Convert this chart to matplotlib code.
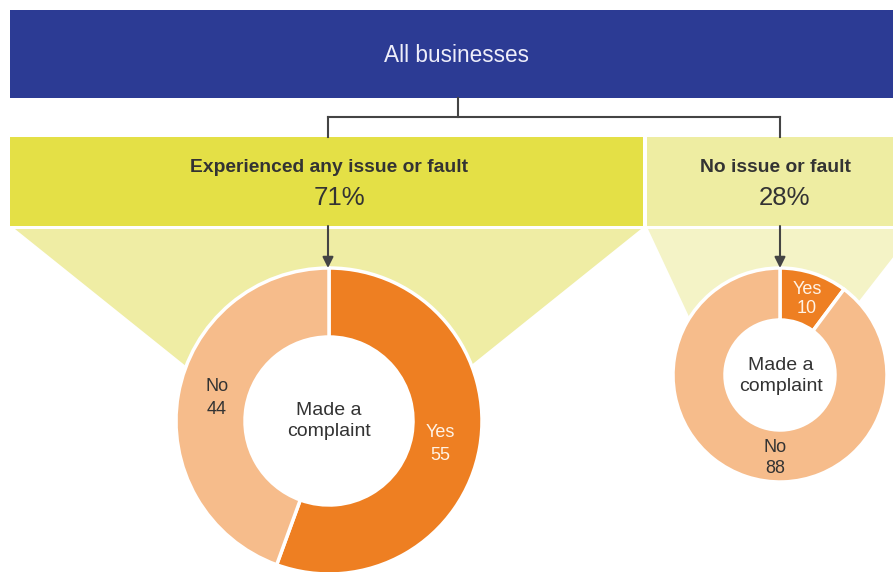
import matplotlib
matplotlib.use("Agg")
import matplotlib.pyplot as plt
from matplotlib.patches import Rectangle, Polygon, Circle

plt.rcParams['font.family'] = ['Liberation Sans', 'DejaVu Sans']

# ---- data ----
top_label = "All businesses"
group_labels = ["Experienced any issue or fault", "No issue or fault"]
group_shares = [71, 28]
center_label = "Made a\ncomplaint"
slice_labels = ["Yes", "No"]
issue_values = [55, 44]       # experienced issue: Yes / No
noissue_values = [10, 88]     # no issue: Yes / No

# ---- styling ----
W, H = 893, 572
BLUE = "#2C3B94"
YEL_STRONG = "#E4E046"
YEL_LIGHT = "#EEEDA2"
FAN_LEFT = "#EFEDA4"
FAN_RIGHT = "#F4F3C6"
ORANGE = "#EE7F22"
PEACH = "#F6BC8B"
TXT = "#333333"
LINE = "#444444"

def Y(py):
    return H - py

fig = plt.figure(figsize=(W / 100, H / 100), dpi=100)
ax = fig.add_axes([0, 0, 1, 1])

# banner
ax.add_patch(Rectangle((10, Y(98)), W - 10, 88, facecolor=BLUE, edgecolor="none", zorder=1))
ax.text(456, Y(55), top_label, color="#EEEEFA", fontsize=16.3, ha="center", va="center", zorder=5)

# connectors
ax.plot([458, 458], [Y(98), Y(117)], color=LINE, lw=1.5, zorder=2)
ax.plot([328, 780], [Y(117), Y(117)], color=LINE, lw=1.5, zorder=2, solid_capstyle="projecting")
ax.plot([328, 328], [Y(117), Y(137)], color=LINE, lw=1.5, zorder=2)
ax.plot([780, 780], [Y(117), Y(137)], color=LINE, lw=1.5, zorder=2)

# group boxes
ax.add_patch(Rectangle((10, Y(226)), 633, 89, facecolor=YEL_STRONG, edgecolor="none", zorder=1))
ax.add_patch(Rectangle((647, Y(226)), W - 647, 89, facecolor=YEL_LIGHT, edgecolor="none", zorder=1))

ax.text(329, Y(167), group_labels[0], color=TXT, fontsize=13.9, fontweight="bold",
        ha="center", va="center", zorder=5)
ax.text(339, Y(198), f"{group_shares[0]}%", color=TXT, fontsize=18.5, ha="center", va="center", zorder=5)
ax.text(775, Y(167), group_labels[1], color=TXT, fontsize=13.9, fontweight="bold",
        ha="center", va="center", zorder=5)
ax.text(785, Y(198), f"{group_shares[1]}%", color=TXT, fontsize=18.5, ha="center", va="center", zorder=5)

# fans
ax.add_patch(Polygon([(15, Y(229)), (641, Y(229)), (328, Y(480))], closed=True,
                     facecolor=FAN_LEFT, edgecolor="none", zorder=1))
ax.add_patch(Polygon([(648, Y(229)), (915, Y(229)), (782, Y(400)), (728, Y(400))], closed=True,
                     facecolor=FAN_RIGHT, edgecolor="none", zorder=1))

# donuts
def donut(values, cx, cy, r, rin):
    wedges, _ = ax.pie(values, colors=[ORANGE, PEACH], startangle=90, counterclock=False,
                       center=(cx, Y(cy)), radius=r, frame=True,
                       wedgeprops=dict(width=r - rin, edgecolor="white", linewidth=2.5))
    for w in wedges:
        w.set_zorder(3)
    ax.add_patch(Circle((cx, Y(cy)), rin, facecolor="white", edgecolor="none", zorder=3.5))

donut(issue_values, 329, 421, 153, 84)
donut(noissue_values, 780, 375, 107, 55)

# donut labels
ax.text(329, Y(421), center_label, color=TXT, fontsize=14, ha="center", va="center",
        linespacing=1.3, zorder=5)
ax.text(781, Y(376), center_label, color=TXT, fontsize=14, ha="center", va="center",
        linespacing=1.25, zorder=5)

ax.text(440, Y(444), f"{slice_labels[0]}\n{issue_values[0]}", color="#FFF3E6", fontsize=13,
        ha="center", va="center", linespacing=1.4, zorder=5)
ax.text(217, Y(398), f"{slice_labels[1]}\n{issue_values[1]}", color=TXT, fontsize=13,
        ha="center", va="center", linespacing=1.4, zorder=5)
ax.text(807, Y(299), f"{slice_labels[0]}\n{noissue_values[0]}", color="#FFF3E6", fontsize=13,
        ha="center", va="center", linespacing=1.12, zorder=5)
ax.text(775, Y(458), f"{slice_labels[1]}\n{noissue_values[1]}", color=TXT, fontsize=13,
        ha="center", va="center", linespacing=1.25, zorder=5)

# arrows
for x in (328, 780):
    ax.annotate("", xy=(x, Y(268)), xytext=(x, Y(226)),
                arrowprops=dict(arrowstyle="-|>", color=LINE, lw=1.5, mutation_scale=16,
                                shrinkA=0, shrinkB=0), zorder=6)

ax.set_xlim(0, W)
ax.set_ylim(0, H)
ax.set_aspect("auto")
ax.axis("off")

fig.savefig("out.png", dpi=100, facecolor="white")
